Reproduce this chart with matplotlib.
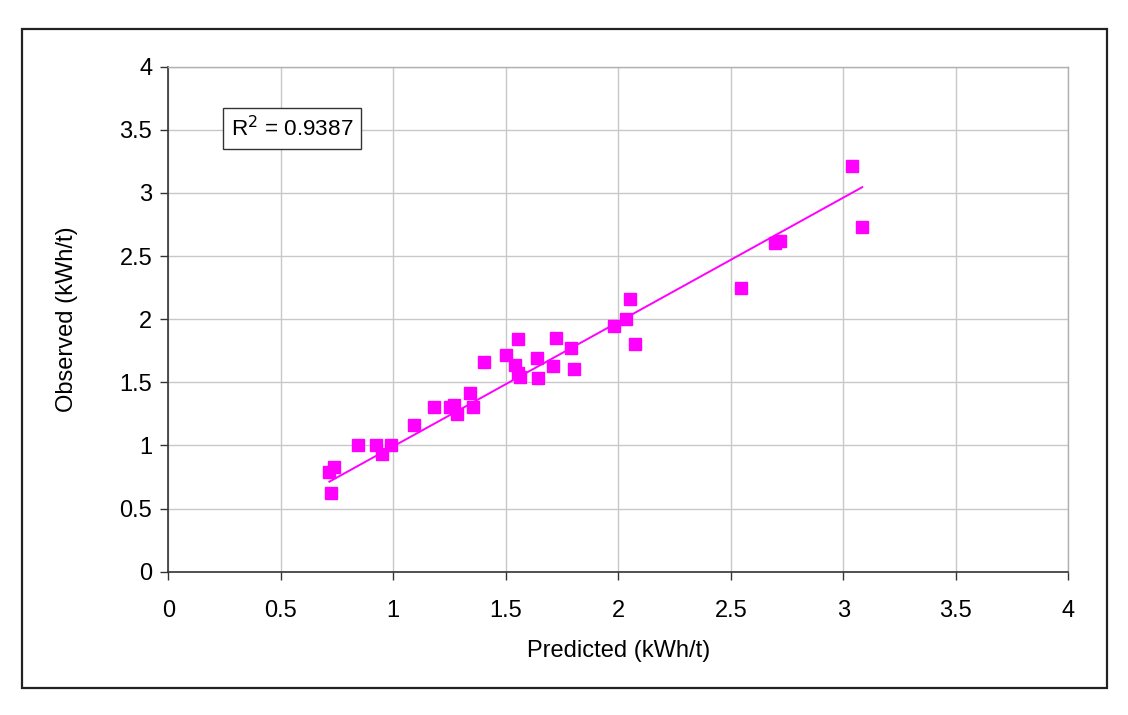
import numpy as np
import matplotlib
matplotlib.use("Agg")
from matplotlib import pyplot as plt
from matplotlib.patches import Rectangle

predicted = [0.716, 0.738, 0.723, 0.844, 0.923, 0.948, 0.988, 1.092, 1.18, 1.252,
             1.27, 1.284, 1.34, 1.354, 1.403, 1.5, 1.54, 1.556, 1.555, 1.565,
             1.637, 1.644, 1.708, 1.723, 1.788, 1.803, 1.981, 2.034, 2.052, 2.076,
             2.545, 2.696, 2.719, 3.037, 3.084]
observed = [0.792, 0.832, 0.621, 1.004, 1.004, 0.932, 1.004, 1.162, 1.307, 1.307,
            1.32, 1.247, 1.418, 1.307, 1.663, 1.719, 1.637, 1.846, 1.575, 1.545,
            1.69, 1.532, 1.632, 1.849, 1.774, 1.603, 1.946, 2.002, 2.16, 1.801,
            2.245, 2.60, 2.62, 3.216, 2.73]
# trend line as drawn in the picture
trend_slope = 0.985
trend_intercept = 0.008
r2_text = "R$^2$ = 0.9387"
ticks = [0, 0.5, 1, 1.5, 2, 2.5, 3, 3.5, 4]
tick_labels = ["0", "0.5", "1", "1.5", "2", "2.5", "3", "3.5", "4"]

plt.rcParams["font.family"] = ["Liberation Sans", "DejaVu Sans"]
fontsize = 17
magenta = "#ff00ff"

fig = plt.figure(figsize=(11.28, 7.15), dpi=100)
ax = fig.add_axes([0.1492, 0.2004, 0.7979, 0.7063])

# outer chart border
fig.patches.append(Rectangle((0.0195, 0.0373), 0.9616, 0.9221, transform=fig.transFigure,
                             fill=False, edgecolor="#222222", linewidth=1.6))

x = np.asarray(predicted)
y = np.asarray(observed)
xs = np.array([x.min(), x.max()])
ax.plot(xs, trend_slope * xs + trend_intercept, color=magenta, linewidth=1.4, zorder=3)
ax.plot(x, y, linestyle="None", marker="s", markersize=8.3, color=magenta, zorder=4)

ax.set_xlim(0, 4)
ax.set_ylim(0, 4)
ax.set_xticks(ticks)
ax.set_yticks(ticks)
ax.set_xticklabels(tick_labels)
ax.set_yticklabels(tick_labels)
ax.tick_params(labelsize=fontsize, direction="out", length=5.5, width=1.0, color="#333333")
ax.tick_params(axis="y", pad=6)
ax.tick_params(axis="x", pad=15)
ax.grid(True, color="#c8c8c8", linewidth=1.0)
ax.set_axisbelow(True)
for side in ("top", "right"):
    ax.spines[side].set_color("#b0b0b0")
    ax.spines[side].set_linewidth(1.0)
for side in ("left", "bottom"):
    ax.spines[side].set_color("#333333")
    ax.spines[side].set_linewidth(1.2)

ax.set_xlabel("Predicted (kWh/t)", fontsize=fontsize, labelpad=13)
ax.set_ylabel("Observed (kWh/t)", fontsize=fontsize, labelpad=30)

ax.text(0.55, 3.51, r2_text, fontsize=16.2, ha="center", va="center",
        bbox=dict(boxstyle="square,pad=0.35", facecolor="white", edgecolor="#333333", linewidth=1.0),
        zorder=5)

fig.savefig("out.png", dpi=100)
